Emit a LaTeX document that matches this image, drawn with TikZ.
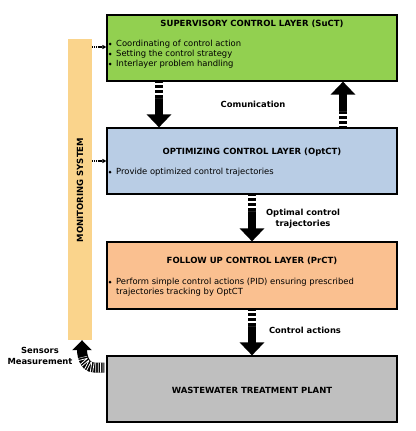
\documentclass[tikz,border=0pt]{standalone}
\usepackage{fontspec}
\setmainfont{DejaVu Sans}
\usetikzlibrary{arrows.meta,calc}
\definecolor{cgreen}{HTML}{92D050}
\definecolor{cblue}{HTML}{B9CDE5}
\definecolor{corange}{HTML}{FAC090}
\definecolor{cgray}{HTML}{BFBFBF}
\definecolor{cbar}{HTML}{FAD48C}
\tikzset{
  layer/.style={draw=black,line width=1.2pt,minimum width=290pt,inner sep=0pt},
  ttl/.style={font=\bfseries\fontsize{8.5}{10}\selectfont,inner sep=0pt},
  blt/.style={font=\fontsize{8.4}{10}\selectfont,inner sep=0pt,anchor=west,align=left},
  lbl/.style={font=\bfseries\fontsize{8.4}{11}\selectfont,inner sep=0pt,align=center},
  bigarrow/.style={line width=8pt,-{Triangle[width=24pt,length=13pt]}},
  stripes/.style={white,line width=8.2pt,dash pattern=on 2pt off 3pt},
  smallarrow/.style={line width=1.5pt,dash pattern=on 1.2pt off 0.6pt,-{Triangle[width=4pt,length=4pt]}},
  dot/.style={circle,fill=black,inner sep=0pt,minimum size=3pt}
}
\begin{document}
\begin{tikzpicture}[x=1pt,y=-1pt]
\useasboundingbox (0,0) rectangle (415,431);
% monitoring bar
\node[fill=cbar,minimum width=24pt,minimum height=301pt,inner sep=0pt] (bar) at (80,189.5) {};
\node[ttl,rotate=90] (mon) at (80,190) {MONITORING SYSTEM};
% layers
\node[layer,fill=cgreen,minimum height=66pt] (sup) at (252,48) {};
\node[layer,fill=cblue,minimum height=66pt] (opt) at (252,161) {};
\node[layer,fill=corange,minimum height=67pt] (fol) at (252,275.5) {};
\node[layer,fill=cgray,minimum height=66pt] (wwtp) at (252,389) {};
% titles
\node[ttl] (supt) at (252,24) {SUPERVISORY CONTROL LAYER (SuCT)};
\node[ttl] (optt) at (252,152) {OPTIMIZING CONTROL LAYER (OptCT)};
\node[ttl] (folt) at (252,261) {FOLLOW UP CONTROL LAYER (PrCT)};
\node[ttl] (wwtpt) at (252,390) {WASTEWATER TREATMENT PLANT};
% bullets
\node[blt] (supb1) at (116,44) {Coordinating of control action};
\node[blt] (supb2) at (116,54) {Setting the control strategy};
\node[blt] (supb3) at (116,64) {Interlayer problem handling};
\foreach \y [count=\i] in {44,54,64} \node[dot] (sd\i) at (110,\y) {};
\node[blt] (optb) at (116,172) {Provide optimized control trajectories};
\node[dot] (od) at (110,172) {};
\node[blt] (folb1) at (116,282) {Perform simple control actions (PID) ensuring prescribed};
\node[blt] (folb2) at (116,292) {trajectories tracking by OptCT};
\node[dot] (fd) at (110,282) {};
% small arrows
\draw[smallarrow] (bar.east |- 0,47) -- (sup.west |- 0,47);
\draw[smallarrow] (bar.east |- 0,161) -- (opt.west |- 0,161);
% big arrows
\coordinate (a1s) at (sup.south -| 159,0);
\coordinate (a1e) at (opt.north -| 159,0);
\draw[bigarrow] (a1s) -- (a1e);
\draw[stripes] ($(a1s)+(0,1)$) -- ++(0,15);
\coordinate (a2s) at (opt.north -| 343,0);
\coordinate (a2e) at (sup.south -| 343,0);
\draw[bigarrow] (a2s) -- (a2e);
\draw[stripes] ($(a2s)+(0,-1)$) -- ++(0,-15);
\coordinate (a3s) at (opt.south -| 252,0);
\coordinate (a3e) at (fol.north -| 252,0);
\draw[bigarrow] (a3s) -- (a3e);
\draw[stripes] ($(a3s)+(0,1)$) -- ++(0,15);
\coordinate (a4s) at (fol.south -| 252,0);
\coordinate (a4e) at (wwtp.north -| 252,0);
\draw[bigarrow] (a4s) -- (a4e);
\draw[stripes] ($(a4s)+(0,1)$) -- ++(0,15);
% sensors arrow
\coordinate (s0) at ($(wwtp.west |- 0,367.5)+(-2,0)$);
\coordinate (s1) at ($(bar.south)+(2,0)$);
\draw[line width=10pt,-{Triangle[width=19pt,length=10pt]}] (s0) -- ++(-10,0) to[out=180,in=-90] (s1);
\draw[white,line width=10.2pt,dash pattern=on 0.8pt off 1.6pt] ($(s0)+(-1,0)$) -- ++(-9,0) to[out=180,in=-90] ($(s1)+(0,17)$);
% labels
\node[lbl] (com) at (253,104) {Comunication};
\node[lbl] (optl) at (303,218.5) {Optimal control\\trajectories};
\node[lbl] (ctl) at (305,330) {Control actions};
\node[lbl] (sen) at (40,356) {Sensors\\Measurement};
\end{tikzpicture}
\end{document}
